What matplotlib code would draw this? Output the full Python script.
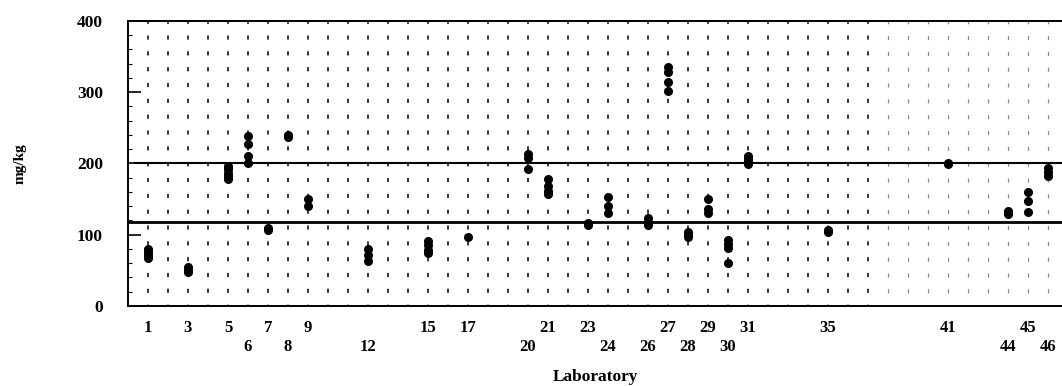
import matplotlib
matplotlib.use("Agg")
import matplotlib.pyplot as plt
from matplotlib.ticker import MultipleLocator

# results per laboratory, mg/kg
labs = [1, 3, 5, 6, 7, 8, 9, 12, 15, 17, 20, 21, 23, 24, 26, 27, 28, 29, 30, 31,
        35, 41, 44, 45, 46]
results = [
    [80, 76, 72, 68],
    [55, 51, 48],
    [197, 192, 187, 182, 178],
    [238, 228, 210, 201],
    [110, 107],
    [240, 237],
    [150, 141],
    [80, 72, 63],
    [91, 85, 79, 74],
    [97],
    [213, 208, 192],
    [178, 168, 162, 157],
    [116, 114],
    [153, 141, 130],
    [123, 118, 113],
    [335, 328, 314, 302],
    [104, 100, 97],
    [150, 136, 130],
    [93, 87, 82, 61],
    [211, 207, 203, 199],
    [106, 104],
    [201, 199],
    [134, 129],
    [160, 147, 132],
    [194, 188, 183],
]

# reference limits
upper_limit = 200
lower_limit = 118

row1_labels = [1, 3, 5, 7, 9, 15, 17, 21, 23, 27, 29, 31, 35, 41, 45]
row2_labels = [6, 8, 12, 20, 24, 26, 28, 30, 44, 46]

plt.rcParams["font.family"] = ["Liberation Serif", "DejaVu Serif"]
plt.rcParams["font.weight"] = "bold"
plt.rcParams["lines.scale_dashes"] = False

fig = plt.figure(figsize=(10.62, 3.86), dpi=100)
ax = fig.add_axes([0.1205, 0.2073, 0.8795, 0.7383])

# dashed guide line for every laboratory
for lab in range(1, 47):
    if lab < 38:
        col, lw = "0.15", 1.3
    else:
        col, lw = "0.55", 0.9
    ax.axvline(lab, color=col, lw=lw, linestyle=(2, (3, 8.4)), zorder=1)

ax.axhline(upper_limit, xmin=0.008, color="black", lw=1.5, zorder=2)
ax.axhline(lower_limit, color="black", lw=2.0, zorder=2)

for lab, vals in zip(labs, results):
    ax.plot([lab] * len(vals), vals, "o", color="black", ms=5.5, mec="black",
            zorder=3, clip_on=False)

ax.set_xlim(0, 46.7)
ax.set_ylim(0, 400)

ax.spines["right"].set_visible(False)
for side in ["left", "bottom", "top"]:
    ax.spines[side].set_linewidth(1.4)

ax.yaxis.set_major_locator(MultipleLocator(100))
ax.yaxis.set_minor_locator(MultipleLocator(20))
ax.tick_params(axis="y", which="major", direction="in", length=9, width=1.2,
               pad=18, labelsize=12.5)
ax.tick_params(axis="y", which="minor", direction="in", length=3, width=0.8)
for lbl in ax.get_yticklabels():
    lbl.set_fontweight("bold")

tick_pos = sorted(row1_labels + row2_labels)
tick_txt = [str(t) if t in row1_labels else "\n" + str(t) for t in tick_pos]
ax.set_xticks(tick_pos)
ax.set_xticklabels(tick_txt, fontsize=12, fontweight="bold", linespacing=1.3)
ax.tick_params(axis="x", length=0, pad=10)

ax.set_ylabel("mg/kg", fontsize=11, fontweight="bold", labelpad=36)
ax.set_xlabel("Laboratory", fontsize=12.5, fontweight="bold", labelpad=10)

fig.savefig("out.png", dpi=100)
